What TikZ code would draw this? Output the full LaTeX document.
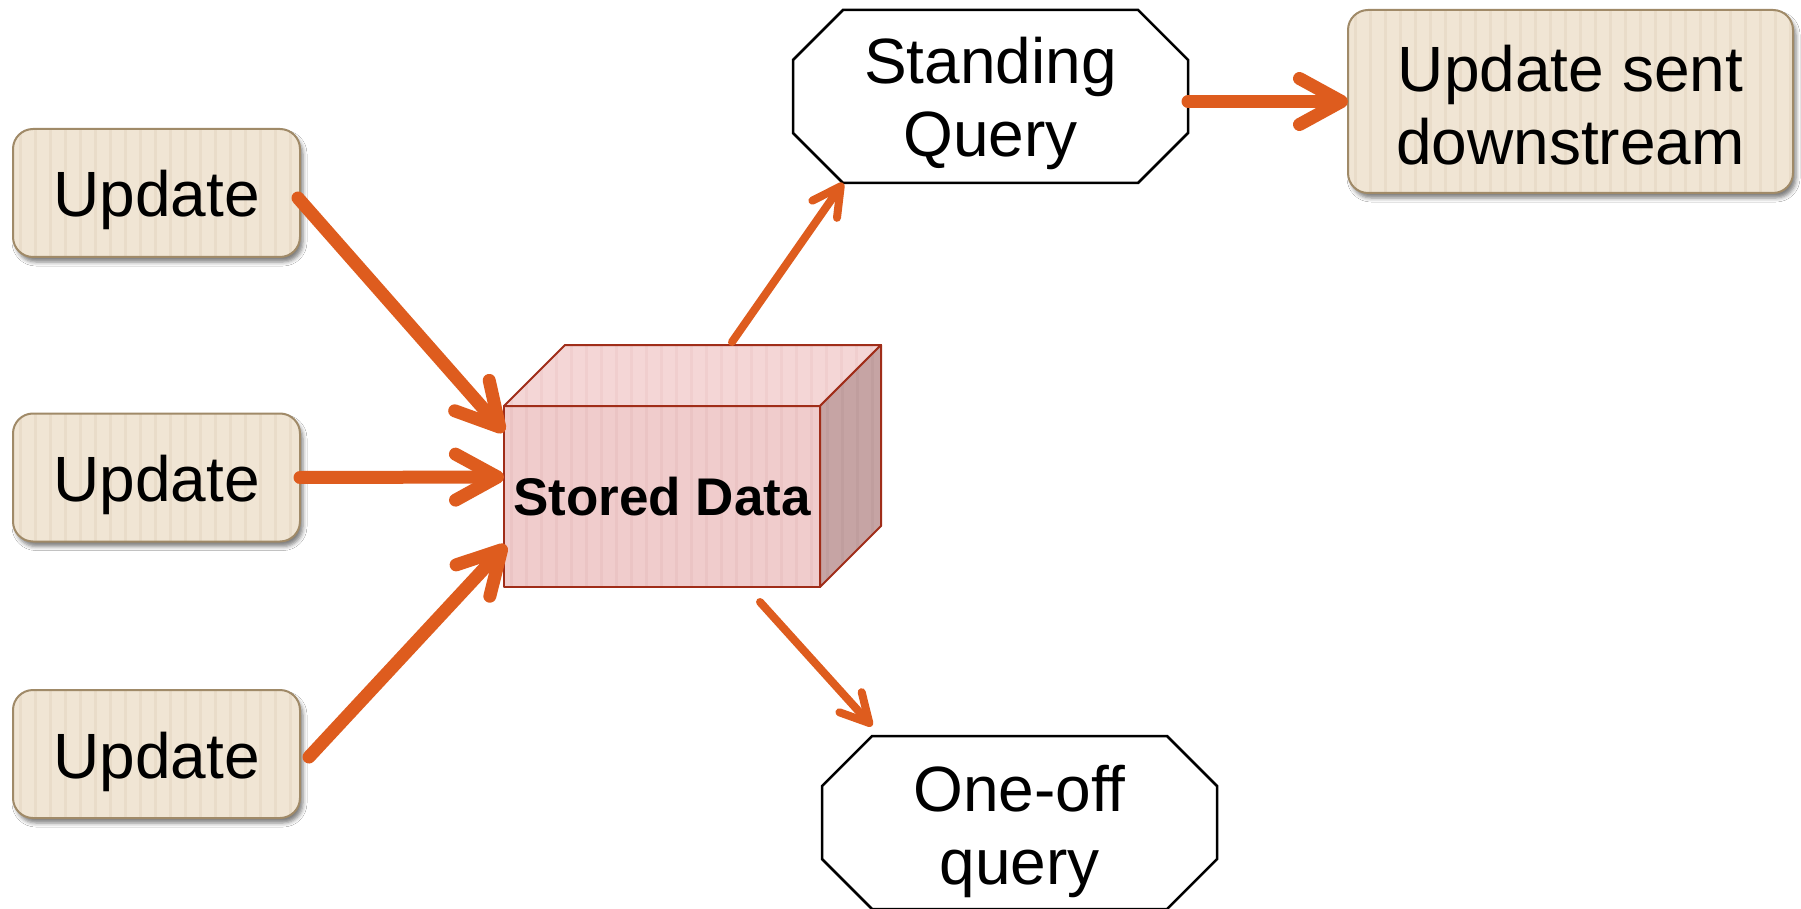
\documentclass[tikz,border=0pt]{standalone}
\usepackage{fontspec}
\setmainfont{Liberation Sans}
\usetikzlibrary{arrows.meta,calc,shadows.blur}

\definecolor{flowc}{RGB}{222,92,30}
\definecolor{paper}{RGB}{240,229,212}
\definecolor{paperline}{RGB}{160,138,104}
\definecolor{paperstripe}{RGB}{233,220,201}
\definecolor{cubefrontc}{RGB}{240,204,204}
\definecolor{cubefrontstripe}{RGB}{235,196,196}
\definecolor{cubetopc}{RGB}{244,214,214}
\definecolor{cubetopstripe}{RGB}{240,206,206}
\definecolor{cubesidec}{RGB}{198,164,164}
\definecolor{cubesidestripe}{RGB}{192,158,158}
\definecolor{cubeline}{RGB}{160,45,25}

\tikzset{
  ribbed/.style={path picture={
      \foreach \k in {0,...,31}{
        \draw[draw=#1, line width=3pt]
          ([xshift=\k*15pt+7pt]path picture bounding box.south west) --
          ([xshift=\k*15pt+7pt]path picture bounding box.north west);}}},
  labelfont/.style={font=\fontsize{64}{73}\selectfont, align=center},
  card/.style={draw=paperline, line width=2pt, fill=paper, rounded corners=20pt,
    inner sep=0pt, outer sep=0pt, labelfont, ribbed=paperstripe,
    blur shadow={shadow xshift=3pt, shadow yshift=-5pt, shadow blur radius=4pt, shadow opacity=50}},
  updatecard/.style={card, minimum width=287pt, minimum height=128pt,
    text height=48pt, text depth=0pt},
  queryframe/.style={inner sep=0pt, outer sep=0pt, minimum width=395pt, minimum height=173pt},
  octline/.style={draw=black, line width=2.5pt, line join=miter, fill=white},
  cubeface/.style={draw=cubeline, line width=2pt, line join=round},
  flow/.style={draw=flowc, line cap=round, line join=round, line width=#1,
    preaction={draw=black, opacity=0.16, transform canvas={xshift=2pt, yshift=-3pt}}},
  bigflow/.style={flow=13pt, -{Straight Barb[length=42pt, width=46pt, line cap=round, line join=round]}},
  smallflow/.style={flow=8pt, -{Straight Barb[length=28pt, width=30pt, line cap=round, line join=round]}},
}

% draws an octagon with 50pt chamfers around a named frame node
\newcommand{\octframe}[1]{%
  \draw[octline] ($(#1.north west)+(50,0)$) -- ($(#1.north east)+(-50,0)$)
    -- ($(#1.north east)+(0,50)$) -- ($(#1.south east)+(0,-50)$)
    -- ($(#1.south east)+(-50,0)$) -- ($(#1.south west)+(50,0)$)
    -- ($(#1.south west)+(0,-50)$) -- ($(#1.north west)+(0,50)$) -- cycle;}

\begin{document}
\begin{tikzpicture}[x=1pt, y=-1pt]
  \useasboundingbox[fill=white] (0,0) rectangle (1801,909);

  % incoming updates
  \node[updatecard] (u1) at (156.5,193) {Update};
  \node[updatecard] (u2) at (156.5,477.5) {Update};
  \node[updatecard] (u3) at (156.5,754) {Update};

  % outgoing update
  \node[card, minimum width=445pt, minimum height=183pt] (ds) at (1570.5,101.5) {};
  \node[labelfont, inner sep=0pt] (dstext) at ([yshift=-4pt]ds.center) {Update sent\\downstream};

  % queries
  \node[queryframe] (sq) at (990.5,96.5) {};
  \octframe{sq}
  \node[labelfont, inner sep=0pt] (sqtext) at ([yshift=-7pt]sq.center) {Standing\\Query};

  \node[queryframe] (oq) at (1019.5,822.5) {};
  \octframe{oq}
  \node[labelfont, inner sep=0pt] (oqtext) at ([yshift=-9pt]oq.center) {One-off\\query};

  % the data store as a box
  \node[cubeface, fill=cubefrontc, ribbed=cubefrontstripe, inner sep=0pt, outer sep=0pt,
        minimum width=316pt, minimum height=181pt,
        font=\bfseries\fontsize{53}{60}\selectfont] (sd) at (662,496.5) {Stored Data};
  \draw[cubeface, fill=cubetopc, ribbed=cubetopstripe]
    (sd.north west) -- ++(61,-61) -- ($(sd.north east)+(61,-61)$) -- (sd.north east) -- cycle;
  \draw[cubeface, fill=cubesidec, ribbed=cubesidestripe]
    (sd.north east) -- ++(61,-61) -- ($(sd.south east)+(61,-61)$) -- (sd.south east) -- cycle;

  % flows
  \draw[bigflow] ($(u1.east)+(-2,5)$) -- ($(sd.north west)+(0,26)$);
  \draw[bigflow] (u2.east) -- ($(sd.north west)+(0,71)$);
  \draw[bigflow] ($(u3.east)+(9,3)$) -- ($(sd.north west)+(2,139)$);
  \draw[smallflow] ($(sd.north)+(70,-64)$) -- ($(sq.south west)+(50,0)$);
  \draw[bigflow] (sq.east |- ds.west) -- (ds.west);
  \draw[smallflow] ($(sd.south)+(98,15)$) -- ($(oq.north west)+(50,-10)$);
\end{tikzpicture}
\end{document}
